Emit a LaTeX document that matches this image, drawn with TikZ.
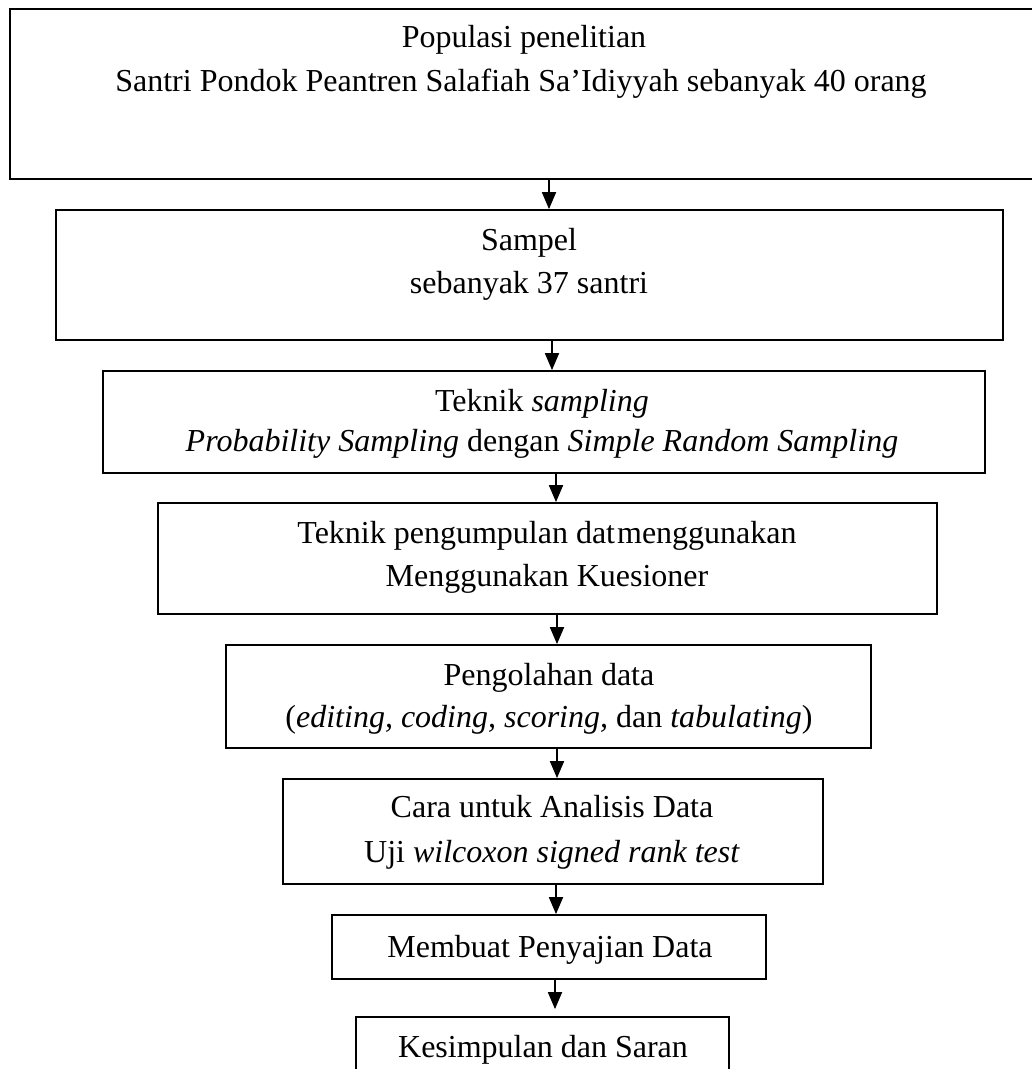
\documentclass[tikz,border=0pt]{standalone}
\usepackage{fontspec}
\setmainfont{Liberation Serif}
\usetikzlibrary{arrows.meta,calc}
\begin{document}
\begin{tikzpicture}[x=1pt,y=-1pt,
  box/.style={draw=black,line width=1.8pt,rectangle,inner sep=0pt},
  txt/.style={anchor=base,inner sep=0pt,font=\fontsize{32}{44}\selectfont},
  arr/.style={line width=1.8pt,-{Triangle[length=17pt,width=14pt]}}]
\useasboundingbox[fill=white] (0,0) rectangle (1032,1069);
% boxes: (left,top) rectangle (right,bottom)
\node[box,minimum width=1028pt,minimum height=170pt] (b1) at (524,94) {};
\node[box,minimum width=947pt,minimum height=130pt] (b2) at (529.5,275) {};
\node[box,minimum width=882pt,minimum height=102pt] (b3) at (544,422) {};
\node[box,minimum width=779pt,minimum height=111pt] (b4) at (547.5,558.5) {};
\node[box,minimum width=645pt,minimum height=103pt] (b5) at (548.5,696.5) {};
\node[box,minimum width=540pt,minimum height=105pt] (b6) at (553,831.5) {};
\node[box,minimum width=434pt,minimum height=64pt] (b7) at (549,947) {};
\node[box,minimum width=373pt,minimum height=80pt] (b8) at (542.5,1057) {};
% texts
\node[txt] (t1a) at (524,47) {Populasi penelitian};
\node[txt] (t1b) at (521,91) {Santri Pondok Peantren Salafiah Sa’Idiyyah sebanyak 40 orang};
\node[txt] (t2a) at (529,250) {Sampel};
\node[txt] (t2b) at (529,293) {sebanyak 37 santri};
\node[txt] (t3a) at (542,411) {Teknik \textit{sampling}};
\node[txt] (t3b) at (542,451) {\textit{Probability Sampling} dengan \textit{Simple Random Sampling}};
\node[txt] (t4a) at (547,543) {Teknik pengumpulan dat\kern2pt menggunakan};
\node[txt] (t4b) at (547,586) {Menggunakan Kuesioner};
\node[txt] (t5a) at (549,685) {Pengolahan data};
\node[txt] (t5b) at (549,727) {(\textit{editing, coding, scoring,} dan \textit{tabulating})};
\node[txt] (t6a) at (552,817) {Cara untuk Analisis Data};
\node[txt] (t6b) at (552,862) {Uji \textit{wilcoxon signed rank test}};
\node[txt] (t7) at (550,957) {Membuat Penyajian Data};
\node[txt] (t8) at (543,1057) {Kesimpulan dan Saran};
% arrows
\draw[arr] (b1.south -| 549,0) -- (b2.north -| 549,0);
\draw[arr] (b2.south -| 552,0) -- (b3.north -| 552,0);
\draw[arr] (b3.south -| 556,0) -- (b4.north -| 556,0);
\draw[arr] (b4.south -| 557,0) -- (b5.north -| 557,0);
\draw[arr] (b5.south -| 557,0) -- (b6.north -| 557,0);
\draw[arr] (b6.south -| 556,0) -- (b7.north -| 556,0);
\draw[arr] (b7.south -| 555,0) -- ($(b8.north -| 555,0)+(0,-7)$);
\end{tikzpicture}
\end{document}
